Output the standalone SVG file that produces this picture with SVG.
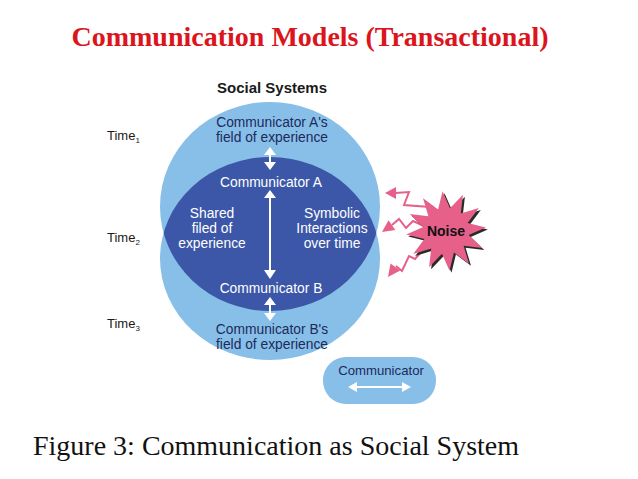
<svg xmlns="http://www.w3.org/2000/svg" width="638" height="479" viewBox="0 0 638 479">
<defs>
<style>
.lb{fill:#88bfe8}
.db{fill:#3c57a8}
.t{font-family:"Liberation Sans",Arial,sans-serif;font-size:13.8px;text-anchor:middle}
.nv{fill:#1c2a5c}
.w{fill:#ffffff}
.wl{stroke:#ffffff;stroke-width:2}
.pk{fill:#e6608a}
.pl{fill:none;stroke:#e6608a;stroke-width:2;stroke-linejoin:miter}
.time{font-family:"Liberation Sans",Arial,sans-serif;font-size:13px;fill:#1a1a1a}
</style>
<clipPath id="topclip"><ellipse cx="270" cy="206.5" rx="110" ry="104.5"/></clipPath>
</defs>
<rect width="638" height="479" fill="#ffffff"/>
<text x="310" y="46" font-family="Liberation Serif,'Times New Roman',serif" font-weight="bold" font-size="28" fill="#dc141c" text-anchor="middle">Communication Models (Transactional)</text>

<g id="social-systems">
<text x="272" y="93" font-family="Liberation Sans,Arial,sans-serif" font-weight="bold" font-size="15" fill="#1a1a1a" text-anchor="middle">Social Systems</text>
</g>

<g id="circle-a">
<ellipse class="lb" cx="270" cy="206.5" rx="110" ry="104.5"/>
</g>
<g id="circle-b">
<ellipse class="lb" cx="270" cy="258.5" rx="110" ry="101.5"/>
</g>
<g id="shared">
<ellipse class="db" cx="270" cy="258.5" rx="110" ry="101.5" clip-path="url(#topclip)"/>
</g>

<g id="times">
<text class="time" x="107" y="140">Time<tspan font-size="8" dy="3">1</tspan></text>
<text class="time" x="107" y="242">Time<tspan font-size="8" dy="3">2</tspan></text>
<text class="time" x="107" y="328">Time<tspan font-size="8" dy="3">3</tspan></text>
</g>

<g id="field-a">
<text class="t nv" x="272" y="127">Communicator A's</text>
<text class="t nv" x="272" y="142">field of experience</text>
</g>
<g id="communicator-a">
<text class="t w" x="271" y="187">Communicator A</text>
</g>
<g id="shared-field">
<text class="t w" x="212" y="218">Shared</text>
<text class="t w" x="212" y="233">filed of</text>
<text class="t w" x="212" y="248">experience</text>
</g>
<g id="symbolic">
<text class="t w" x="332" y="218">Symbolic</text>
<text class="t w" x="332" y="233">Interactions</text>
<text class="t w" x="332" y="248">over time</text>
</g>
<g id="communicator-b">
<text class="t w" x="271" y="293">Communicator B</text>
</g>
<g id="field-b">
<text class="t nv" x="272" y="334">Communicator B's</text>
<text class="t nv" x="272" y="349">field of experience</text>
</g>

<g id="connectors">
<line class="wl" x1="270" y1="154" x2="270" y2="163"/>
<polygon class="w" points="270,147 264,155 276,155"/>
<polygon class="w" points="270,170 264,162 276,162"/>
<line class="wl" x1="270" y1="197" x2="270" y2="271"/>
<polygon class="w" points="270,190 264,198 276,198"/>
<polygon class="w" points="270,279 264,270 276,270"/>
<line class="wl" x1="270" y1="304" x2="270" y2="314"/>
<polygon class="w" points="270,297 264,305 276,305"/>
<polygon class="w" points="270,321 264,313 276,313"/>
<polyline class="pl" points="430,207 404,205 409,192 395,193"/>
<polygon class="pk" points="385,193 396,187 396,199"/>
<polyline class="pl" points="424,226 413,221 406,228 399,219 392,225"/>
<polygon class="pk" points="382,232 388.5,220.3 395.3,230.1"/>
<polyline class="pl" points="424,249 415,259 409,256 402,271 396,266"/>
<polygon class="pk" points="388,277 390.5,263.5 400.3,270.5"/>
</g>

<g id="noise">
<polygon transform="translate(2,2)" fill="#2a2a2a" points="442.5,191.2 450,208.3 462.9,194.8 460.8,213.4 478.8,208 467.6,223.1 485.8,227.5 468.7,235 482.2,247.9 463.6,245.8 469,263.8 453.9,252.6 449.5,270.8 442,253.7 429.1,267.2 431.2,248.6 413.2,254 424.4,238.9 406.2,234.5 423.3,227 409.8,214.1 428.4,216.2 423,198.2 438.1,209.4"/>
<polygon class="pk" points="442.5,191.2 450,208.3 462.9,194.8 460.8,213.4 478.8,208 467.6,223.1 485.8,227.5 468.7,235 482.2,247.9 463.6,245.8 469,263.8 453.9,252.6 449.5,270.8 442,253.7 429.1,267.2 431.2,248.6 413.2,254 424.4,238.9 406.2,234.5 423.3,227 409.8,214.1 428.4,216.2 423,198.2 438.1,209.4"/>
<text x="446" y="236" font-family="Liberation Sans,Arial,sans-serif" font-weight="bold" font-size="14" fill="#111111" text-anchor="middle">Noise</text>
</g>

<g id="communicator-legend">
<rect class="lb" x="323" y="357" width="113" height="47" rx="23" ry="23"/>
<text x="381" y="375" font-family="Liberation Sans,Arial,sans-serif" font-size="13.2" fill="#1c2a5c" text-anchor="middle">Communicator</text>
<line class="wl" x1="355" y1="387" x2="404" y2="387"/>
<polygon class="w" points="348,387 357,382 357,392"/>
<polygon class="w" points="411,387 402,382 402,392"/>
</g>

<text x="33" y="455" font-family="Liberation Serif,'Times New Roman',serif" font-size="28" fill="#111111">Figure 3: Communication as Social System</text>
</svg>
